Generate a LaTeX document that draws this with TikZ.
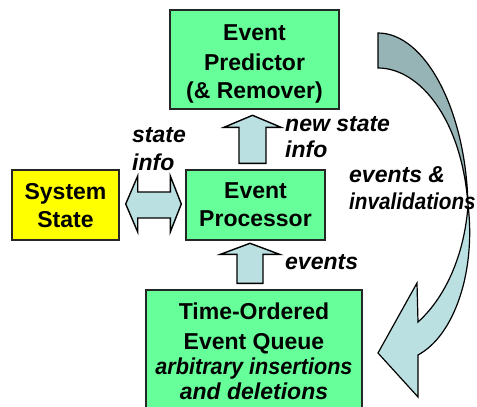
\documentclass[tikz,border=0pt]{standalone}
\usepackage{fontspec}
\setmainfont{Liberation Sans}
\usetikzlibrary{calc}
\definecolor{boxgreen}{RGB}{102,255,153}
\definecolor{stateyellow}{RGB}{255,255,0}
\definecolor{arrowlight}{RGB}{187,224,226}
\definecolor{arrowdark}{RGB}{150,180,181}

\begin{document}
\begin{tikzpicture}[x=1pt,y=-1pt,
  box/.style={draw=black!85, line width=1.4pt, fill=boxgreen, align=center,
    font=\bfseries\fontsize{23}{28}\selectfont, inner sep=0pt, text depth=0pt},
  lbl/.style={align=left, anchor=west, inner sep=0pt,
    font=\bfseries\itshape\fontsize{23}{27}\selectfont},
  blockarrow/.style={draw=black, line width=1.4pt, fill=arrowlight, line join=miter},
  ribbonback/.style={draw=black, line width=1.2pt, fill=arrowdark},
  ribbonfront/.style={draw=black, line width=1.2pt, fill=arrowlight, line join=miter},
]
\clip (0,0) rectangle (477,407);

% boxes
\node[box, minimum width=169, minimum height=99] (pred) at (254.5,59.5)
  {\rule{0pt}{19pt}Event\\[2pt]Predictor\\(\& Remover)};
\node[box, fill=stateyellow, minimum width=107, minimum height=70] (sys) at (65.5,205)
  {System\\State};
\node[box, minimum width=139, minimum height=70] (proc) at (255.5,205)
  {Event\\Processor};
\node[box, minimum width=216, minimum height=122,
  font=\bfseries\fontsize{23}{25}\selectfont] (queue) at (254,351)
  {Time-Ordered\\[5pt]Event Queue\\{\itshape\scalebox{0.94}[1]{arbitrary insertions}}\\{\itshape and deletions}};

% block arrow: processor -> predictor
\coordinate (ua) at ($(proc.north)+(-3,-6)$);
\draw[blockarrow] ($(ua)+(-13.5,0)$) -- ++(0,-36) -- ++(-15,0) -- ++(28.5,-12)
  -- ++(28.5,12) -- ++(-15,0) -- ++(0,36) -- cycle;

% block arrow: queue -> processor
\coordinate (ub) at ($(queue.north)+(-4,-6)$);
\draw[blockarrow] ($(ub)+(-13,0)$) -- ++(0,-29) -- ++(-16.5,0) -- ++(29.5,-11)
  -- ++(29.5,11) -- ++(-16.5,0) -- ++(0,29) -- cycle;

% double block arrow: system state <-> processor
\coordinate (dl) at ($(sys.east)+(6,-1)$);
\coordinate (dr) at ($(proc.west)+(-4,-1)$);
\draw[blockarrow] (dl) -- ++(12,-28) -- ++(0,16) -- ($(dr)+(-11,-12)$) -- ++(0,-16)
  -- (dr) -- ++(-11,28) -- ++(0,-14) -- ($(dl)+(12,14)$) -- ++(0,14) -- cycle;

% curved ribbon arrow: predictor -> queue
\draw[ribbonback] (378,33) .. controls (425,33) and (466,110) .. (468,205)
  .. controls (462,120) and (420,68) .. (378,68) -- cycle;
\draw[ribbonfront] (468,205) .. controls (476,270) and (455,335) .. (418,355)
  -- (418,397) -- (378,353) -- (417,283) -- (418,322)
  .. controls (448,295) and (465,250) .. (468,205) -- cycle;

% labels
\node[lbl] (lstate) at (132,149) {state\\[1pt]info};
\node[lbl, font=\bfseries\itshape\fontsize{23}{26}\selectfont] (lnew) at (285,137) {new state\\info};
\node[lbl] (lev) at (285,262) {events};
\node[lbl] (linv) at (349,188) {events \&\\\scalebox{0.9}[1]{invalidations}};
\end{tikzpicture}
\end{document}
